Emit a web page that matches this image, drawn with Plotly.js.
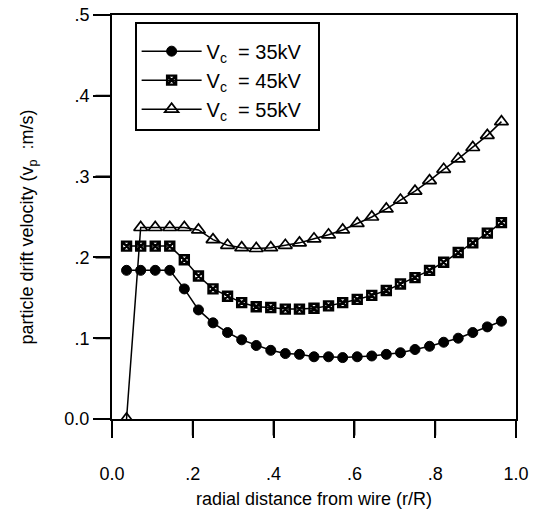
<!DOCTYPE html>
<html>
<head>
<meta charset="utf-8">
<script src="https://cdn.plot.ly/plotly-3.0.1.min.js"></script>
<style>html,body{margin:0;padding:0;background:#fff;}#chart{width:546px;height:511px;}</style>
</head>
<body>
<div id="chart"></div>
<script>
// radial distance r/R
var rPos = [0.036, 0.071, 0.107, 0.143, 0.179, 0.214, 0.250, 0.286, 0.321, 0.357, 0.393, 0.429, 0.464, 0.500,
            0.536, 0.571, 0.607, 0.643, 0.679, 0.714, 0.750, 0.786, 0.821, 0.857, 0.893, 0.929, 0.964];
// particle drift velocity (m/s)
var v35 = [0.184, 0.184, 0.184, 0.184, 0.161, 0.135, 0.119, 0.107, 0.098, 0.091, 0.085, 0.081, 0.080, 0.077,
           0.077, 0.076, 0.077, 0.078, 0.080, 0.082, 0.086, 0.090, 0.095, 0.100, 0.107, 0.114, 0.121];
var v45 = [0.214, 0.214, 0.214, 0.214, 0.197, 0.177, 0.161, 0.152, 0.144, 0.139, 0.138, 0.136, 0.136, 0.137,
           0.140, 0.144, 0.148, 0.153, 0.159, 0.167, 0.175, 0.184, 0.194, 0.206, 0.218, 0.230, 0.243];
var v55 = [0.000, 0.237, 0.237, 0.237, 0.237, 0.234, 0.222, 0.215, 0.212, 0.211, 0.212, 0.215, 0.218, 0.223,
           0.228, 0.234, 0.242, 0.250, 0.260, 0.271, 0.282, 0.295, 0.309, 0.322, 0.336, 0.351, 0.368];
var seriesNames = ['V<sub>c</sub>\u00a0\u00a0= 35kV\u00a0\u00a0', 'V<sub>c</sub>\u00a0\u00a0= 45kV\u00a0\u00a0', 'V<sub>c</sub>\u00a0\u00a0= 55kV\u00a0\u00a0'];
var xTickVals = [0, 0.2, 0.4, 0.6, 0.8, 1.0];
var xTickText = ['0.0', '.2', '.4', '.6', '.8', '1.0'];
var yTickVals = [0, 0.1, 0.2, 0.3, 0.4, 0.5];
var yTickText = ['0.0', '.1', '.2', '.3', '.4', '.5'];
var xRange = [0, 1];
var yRange = [0, 0.5];

var font = 'Liberation Sans, Arial, sans-serif';
var traces = [
  {x: rPos, y: v35, name: seriesNames[0], mode: 'lines+markers', type: 'scatter',
   line: {color: '#000', width: 1.5},
   marker: {symbol: 'circle', size: 10, color: '#000', line: {color: '#000', width: 1}}},
  {x: rPos, y: v45, name: seriesNames[1], mode: 'lines+markers', type: 'scatter',
   line: {color: '#000', width: 1.5},
   marker: {symbol: 'square-x-open', size: 9, color: '#000', line: {color: '#000', width: 2.4}}},
  {x: rPos, y: v55, name: seriesNames[2], mode: 'lines+markers', type: 'scatter',
   line: {color: '#000', width: 1.5},
   marker: {symbol: 'triangle-up-open', size: 12, color: '#000', line: {color: '#000', width: 1.7}}}
];

var W = 546, H = 511;
var M = {l: 112, r: 30, t: 15, b: 92};
var tickLen = 17;
function toFrac(v, r) { return (v - r[0]) / (r[1] - r[0]); }

// outward tick marks drawn as headless annotation arrows anchored at the tick values
function tickArrow(xp, yp, ax, ay) {
  return {text: '', xref: 'paper', yref: 'paper', x: xp, y: yp,
          showarrow: true, arrowhead: 0, arrowwidth: 2, arrowcolor: '#000',
          ax: ax, ay: ay, standoff: 0, startstandoff: 0,
          font: {size: 1}, borderpad: 0};
}
var tickAnns = xTickVals.map(function (v) { return tickArrow(toFrac(v, xRange), 0, 0, tickLen); })
  .concat(yTickVals.map(function (v) { return tickArrow(0, toFrac(v, yRange), -tickLen, 0); }));

var layout = {
  width: W, height: H,
  margin: M,
  paper_bgcolor: '#fff', plot_bgcolor: '#fff',
  font: {family: font, color: '#000', size: 18},
  showlegend: true,
  legend: {x: 0.056, y: 0.983, xanchor: 'left', yanchor: 'top',
           bordercolor: '#000', borderwidth: 2, bgcolor: '#fff',
           font: {family: font, size: 20, color: '#000'},
           title: {text: ' ', font: {size: 6}},
           itemwidth: 60, tracegroupgap: 0},
  xaxis: {range: xRange, tickvals: xTickVals, ticktext: xTickText,
          ticks: 'outside', ticklen: tickLen, tickwidth: 2, tickcolor: '#000',
          showline: true, linecolor: '#000', linewidth: 2, mirror: true,
          showgrid: false, zeroline: false, ticklabelstandoff: 20,
          tickfont: {family: font, size: 18, color: '#000'}},
  yaxis: {range: yRange, tickvals: yTickVals, ticktext: yTickText,
          ticks: 'outside', ticklen: tickLen, tickwidth: 2, tickcolor: '#000',
          showline: true, linecolor: '#000', linewidth: 2, mirror: true,
          showgrid: false, zeroline: false,
          tickfont: {family: font, size: 18, color: '#000'}},
  annotations: [
    {text: 'radial distance from wire (r/R)', xref: 'paper', yref: 'paper',
     x: 0.5, y: -0.197, xanchor: 'center', yanchor: 'middle', showarrow: false,
     font: {family: font, size: 18, color: '#000'}},
    {text: 'particle drift velocity (v<sub>p</sub>\u00a0\u00a0:m/s)', xref: 'paper', yref: 'paper',
     x: -0.206, y: 0.476, xanchor: 'center', yanchor: 'middle', textangle: -90, showarrow: false,
     font: {family: font, size: 18, color: '#000'}}
  ].concat(tickAnns)
};

Plotly.newPlot('chart', traces, layout, {displayModeBar: false});
</script>
</body>
</html>
